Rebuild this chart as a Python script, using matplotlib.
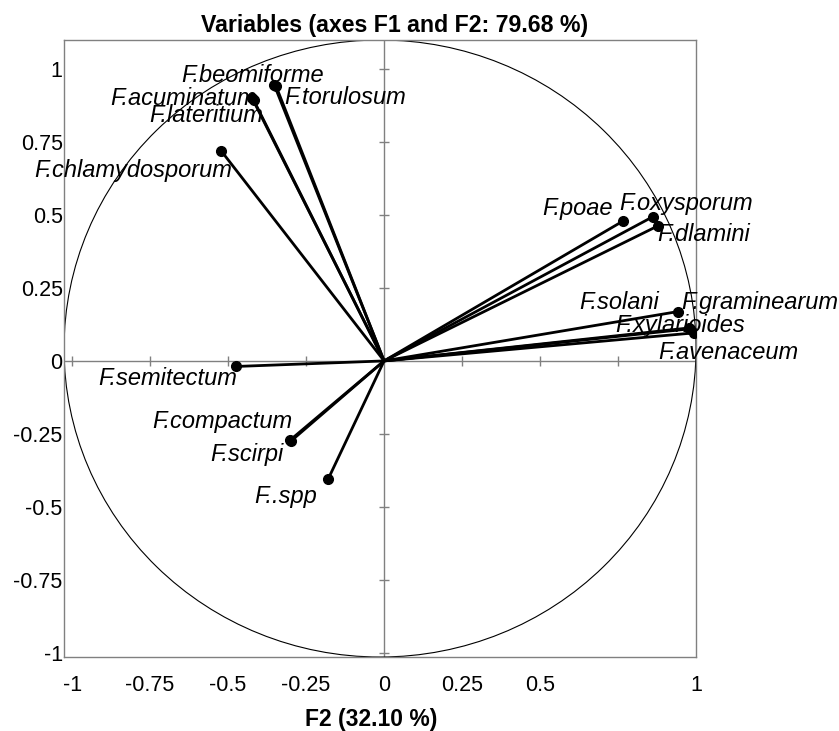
import matplotlib.pyplot as plt
from matplotlib.patches import Ellipse

plt.rcParams['font.family'] = ['Liberation Sans', 'DejaVu Sans']

# variable coordinates on F2 (x) and F1 (y)
names = ['F.beomiforme', 'F.torulosum', 'F.acuminatum', 'F.lateritium',
         'F.chlamydosporum', 'F.poae', 'F.oxysporum', 'F.dlamini',
         'F.solani', 'F.graminearum', 'F.xylarioides', 'F.avenaceum',
         'F.semitectum', 'F.compactum', 'F.scirpi', 'F..spp']
f2 = [-0.352, -0.346, -0.423, -0.418, -0.522, 0.766, 0.862, 0.877,
      0.942, 0.978, 0.981, 0.994, -0.474, -0.298, -0.301, -0.179]
f1 = [0.945, 0.940, 0.900, 0.893, 0.719, 0.479, 0.494, 0.462,
      0.169, 0.113, 0.110, 0.096, -0.019, -0.274, -0.271, -0.404]

xtick_vals = [-1, -0.75, -0.5, -0.25, 0, 0.25, 0.5, 1]
xtick_labels = ['-1', '-0.75', '-0.5', '-0.25', '0', '0.25', '0.5', '1']
tick_marks = [-1, -0.75, -0.5, -0.25, 0.25, 0.5, 0.75, 1]
ytick_vals = [1, 0.75, 0.5, 0.25, 0, -0.25, -0.5, -0.75, -1]
ytick_labels = ['1', '0.75', '0.5', '0.25', '0', '-0.25', '-0.5', '-0.75', '-1']

# label placement: (dx px, dy px, ha)
label_pos = [(-22, 9, 'center'), (8, -11, 'left'), (5, 0, 'right'), (9, -15, 'right'),
             (11, -20, 'right'), (-10, 13, 'right'), (-34, 13, 'left'), (0, -8, 'left'),
             (-19, 9, 'right'), (-8, 25, 'left'), (-75, 3, 'left'), (-36, -20, 'left'),
             (1, -12, 'right'), (1, 19, 'right'), (-7, -14, 'right'), (-11, -18, 'right')]

fig = plt.figure(figsize=(8.39, 7.31), dpi=100)
ax = fig.add_axes([0.0763, 0.1012, 0.7533, 0.8441])
ax.set_xlim(-1.026, 1.0)
ax.set_ylim(-1.014, 1.099)

for s in ax.spines.values():
    s.set_color('#808080')
    s.set_linewidth(1)

ax.axhline(0, color='#808080', lw=1, zorder=1)
ax.axvline(0, color='#808080', lw=1, zorder=1)
ax.plot(tick_marks, [0] * len(tick_marks), ls='none', marker='|', ms=7, mew=1, color='#808080')
ax.plot([0] * len(tick_marks), tick_marks, ls='none', marker='_', ms=7, mew=1, color='#808080')

ax.add_patch(Ellipse((0.5, 0.5), 1, 1, transform=ax.transAxes, fill=False,
                     lw=0.8, color='black', zorder=2))

for x, y in zip(f2, f1):
    ax.plot([0, x], [0, y], color='black', lw=2, solid_capstyle='butt', zorder=3)
ax.plot(f2, f1, 'o', color='black', ms=7, zorder=4)

for n, x, y, (dx, dy, ha) in zip(names, f2, f1, label_pos):
    ax.annotate(n, (x, y), xytext=(dx, dy), textcoords='offset pixels',
                ha=ha, va='center', fontsize=17, style='italic', zorder=5)

ax.set_xticks(xtick_vals, xtick_labels)
ax.set_yticks(ytick_vals, ytick_labels)
ax.tick_params(axis='both', length=0, labelsize=15.5)
ax.tick_params(axis='x', pad=13)
ax.tick_params(axis='y', pad=1)

ax.set_title('Variables (axes F1 and F2: 79.68 %)', fontsize=16.7, fontweight='bold',
             pad=6, x=0.523)
ax.set_xlabel('F2 (32.10 %)', fontsize=16.5, fontweight='bold')
ax.xaxis.set_label_coords(0.486, -0.082)

fig.savefig('out.png', dpi=100)
